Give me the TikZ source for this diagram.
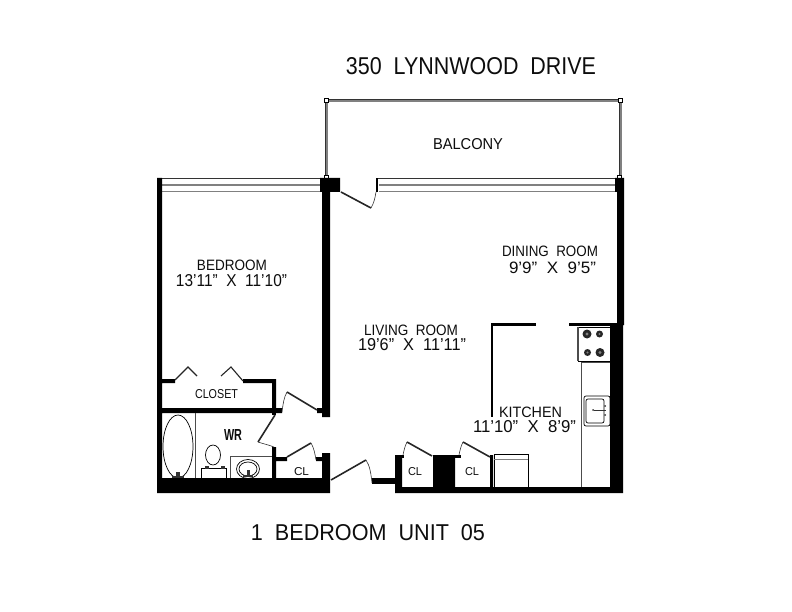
\documentclass[tikz,border=0pt]{standalone}
\usepackage{fontspec}
\usepackage{graphicx}
\setmainfont{Liberation Sans}
\newcommand{\fitlabel}[3]{\resizebox{#1pt}{#2pt}{#3}}
\tikzset{
  wallfill/.style={fill=black,draw=none},
  fix/.style={draw=black,line width=0.7pt,fill=none},
  thinline/.style={draw=black!70,line width=0.8pt},
  leaf/.style={draw=black!85,line width=1.6pt},
  swing/.style={draw=black!80,line width=0.6pt},
  glassdark/.style={draw=black!80,line width=1pt},
  glassgrey/.style={draw=black!50,line width=1.2pt},
  post/.style={draw=black,fill=white,line width=0.7pt},
  txt/.style={inner sep=0pt,text=black!95}
}
\begin{document}
\begin{tikzpicture}[x=1pt,y=-1pt]
\useasboundingbox (0,0) rectangle (792,612);
\fill[white] (0,0) rectangle (792,612);
% balcony rail
\draw[glassgrey] (327,101) -- (619,101) (327,176) -- (327,103) (621,176) -- (621,103);
\draw[glassdark,line width=0.6pt] (327,99) -- (619,99) (325,176) -- (325,103) (619,176) -- (619,103);
\draw[post] (324,98) rectangle (328,102);
\draw[post] (618.5,98) rectangle (622.5,102);
\draw[post] (324,175) rectangle (328,178);
\draw[post] (617.5,175) rectangle (621.5,178);
% windows
\draw[glassdark] (162,178.5) -- (320,178.5) (377,178.5) -- (616,178.5);
\draw[glassgrey] (162,185) -- (320,185) (379,185) -- (616,185);
\draw[glassgrey] (162,191.5) -- (320,191.5) (379,191.5) -- (617,191.5);
% walls
\fill[wallfill] (157,178) -- (162,178) -- (162,379) -- (175,379) -- (175,383) -- (162,383)
  -- (162,408) -- (272,408) -- (272,383) -- (243,383) -- (243,379) -- (276,379) -- (276,408)
  -- (282,408) -- (282,413) -- (162,413) -- (162,478) -- (272,478) -- (272,447) -- (276,447)
  -- (276,457) -- (287,457) -- (287,461) -- (276,461) -- (276,478)
  -- (322,478) -- (322,461) -- (316,461) -- (316,457) -- (322,457) -- (322,453) -- (330,453)
  -- (330,493) -- (157,493) -- cycle;
\fill[wallfill] (320,178) -- (340,178) -- (340,192) -- (330,192) -- (330,417) -- (322,417)
  -- (322,413) -- (317,413) -- (317,408) -- (322,408) -- (322,192) -- (320,192) -- cycle;
\fill[wallfill] (272,413) rectangle (276,415);
\fill[wallfill] (372,478) rectangle (396,484);
\fill[wallfill] (376,178) rectangle (378,192);
\fill[wallfill] (395,455) -- (402,455) -- (402,487) -- (433,487) -- (433,455) -- (455,455) -- (455,487)
  -- (490,487) -- (490,455) -- (493,455) -- (493,487) -- (610,487) -- (610,325) -- (617,325)
  -- (617,192) -- (615,192) -- (615,178) -- (624,178) -- (624,325) -- (623,325) -- (623,493) -- (395,493) -- cycle;
\fill[wallfill] (402,455) rectangle (404,458);
\fill[wallfill] (455,455) rectangle (461,458);
% kitchen partition
\fill[wallfill] (491,323) rectangle (536,325.5);
\fill[wallfill] (491,323) rectangle (493,417);
\fill[wallfill] (569,323) rectangle (617,325.5);
% doors
\draw[leaf] (341,192) -- (371,208);
\draw[swing] (371,208) .. controls (374,203) and (375,198) .. (376,192);
\draw[leaf] (287,392) -- (317,410);
\draw[swing] (287,392) .. controls (284,397) and (283,404) .. (282,412);
\draw[leaf] (275,415) -- (258,442);
\draw[swing] (258,442) .. controls (264,444) and (269,445) .. (274,447);
\draw[leaf] (287,457) -- (311,443);
\draw[swing] (311,443) .. controls (314,448) and (315,454) .. (316,460);
\draw[leaf] (331,480) -- (366,460);
\draw[swing] (366,460) .. controls (370,466) and (371,474) .. (372,483);
\draw[leaf] (407,442) -- (432,456);
\draw[swing] (407,442) .. controls (405,446) and (404,450) .. (403,455);
\draw[leaf] (463,442) -- (490,457);
\draw[swing] (463,442) .. controls (461,446) and (460,450) .. (459,455);
% closet doors
\draw[leaf,line width=1.1pt] (175,380) -- (188,367) -- (197,376);
\draw[leaf,line width=1.1pt] (221,376) -- (231,367) -- (243,381);
% bath fixtures
\draw[thinline] (195,413) -- (195,478);
\draw[fix] (178,446.5) ellipse (15 and 31.5);
\fill[black!80] (176,477.5) rectangle (180,472);
\fill[black!80] (172,476) rectangle (184,478);
\draw[fix] (213,455) ellipse (7.5 and 10);
\draw[fix] (201,478) -- (201,468) -- (226,468) -- (226,478);
\fill[black!80] (205,466) rectangle (209,469);
\fill[black!80] (221,466) rectangle (225,469);
\draw[thinline] (230,478) -- (230,456) -- (272,456);
\draw[fix] (248,469) ellipse (11.5 and 9.5);
\draw[fix] (248,469) ellipse (9 and 7);
\fill[black!80] (246.5,476) rectangle (249.5,470);
\fill[black!80] (243,475) rectangle (253,477);
% range
\draw[fix,line width=1pt] (578,327) rectangle (610,361);
\fill[black!70] (577,327) rectangle (579,361);
\foreach \bx/\by/\br in {587/334/4.5, 599.5/334/3.5, 587.5/352.5/3.5, 600/352.5/4.5}{
  \fill[black!85] (\bx,\by) circle (\br);
  \fill[black!50] (\bx,\by) circle (\br*0.35);
}
% counter
\draw[thinline] (610,362) -- (581,362) -- (581,487);
\draw[fix,rounded corners=2pt] (584,396) rectangle (610,426);
\draw[fix,rounded corners=2pt] (586,399) rectangle (604,423);
\fill[black!80] (594,409.5) rectangle (606,411);
\fill[black!80] (593,410) circle (1);
\fill[black!80] (605,406) circle (1);
\fill[black!80] (605,415) circle (1);
% appliance
\draw[fix] (494,487) -- (494,454) -- (528,454) -- (528,487);
\draw[glassgrey] (494,459.5) -- (528,459.5);
% text
\node[txt] (title) at (471,66) {\fitlabel{250}{17}{350~~LYNNWOOD~~DRIVE}};
\node[txt] (unit) at (368,533) {\fitlabel{234}{16}{1~~BEDROOM~~UNIT~~05}};
\node[txt] (balcony) at (468,144) {\fitlabel{70}{11}{BALCONY}};
\node[txt] (bedroom) at (232,265.5) {\fitlabel{70}{10.5}{BEDROOM}};
\node[txt] (bedroomd) at (231.5,281) {\fitlabel{111}{12}{13'11”~~X~~11'10”}};
\node[txt] (dining) at (550,251.5) {\fitlabel{96}{10.5}{DINING~~ROOM}};
\node[txt] (diningd) at (552.5,267.5) {\fitlabel{87}{11.5}{9'9”~~X~~9'5”}};
\node[txt] (living) at (411,330) {\fitlabel{94}{10.5}{LIVING~~ROOM}};
\node[txt] (livingd) at (412,345) {\fitlabel{108}{12}{19'6”~~X~~11'11”}};
\node[txt] (kitchen) at (530.5,412) {\fitlabel{63}{10.5}{KITCHEN}};
\node[txt] (kitchend) at (524.5,427) {\fitlabel{103}{12}{11'10”~~X~~8'9”}};
\node[txt] (closet) at (216.5,394.5) {\fitlabel{43}{9}{CLOSET}};
\node[txt] (wr) at (233,435) {\fitlabel{18}{11}{\textbf{WR}}};
\node[txt] (cla) at (301.5,472) {\fitlabel{15}{8}{CL}};
\node[txt] (clb) at (415,472) {\fitlabel{14}{8}{CL}};
\node[txt] (clc) at (472,472) {\fitlabel{14}{8}{CL}};
\end{tikzpicture}
\end{document}
